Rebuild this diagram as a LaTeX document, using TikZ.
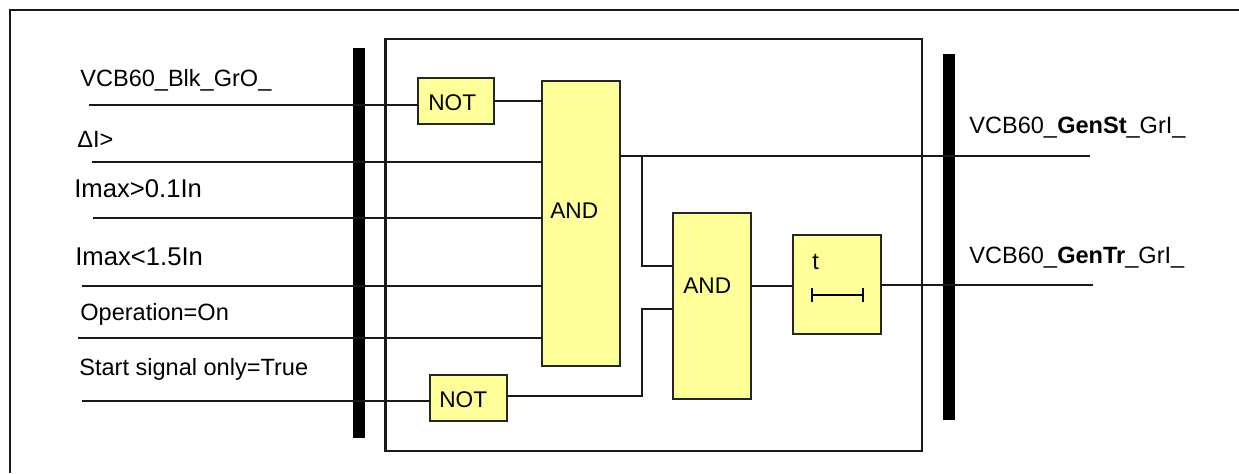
\documentclass[tikz,border=0pt]{standalone}
\usepackage{fontspec}
\setmainfont{Liberation Sans}
\usetikzlibrary{arrows.meta}
\definecolor{gateyellow}{HTML}{FFFF99}
\tikzset{
    wire/.style={line width=1.1pt, black!90},
    gate/.style={draw=black!85, line width=1.1pt, fill=gateyellow, inner sep=0pt, outer sep=0pt},
    bus/.style={fill=black, inner sep=0pt, outer sep=0pt, minimum width=0.23cm},
    lbl/.style={anchor=base west, inner sep=0pt, font=\fontsize{13.4}{16}\selectfont},
    biglbl/.style={lbl, font=\fontsize{14.6}{17}\selectfont},
    gatelbl/.style={lbl, font=\fontsize{12.9}{15}\selectfont}
}
\begin{document}
\begin{tikzpicture}[x=0.02cm, y=-0.02cm, >=Stealth]
    \useasboundingbox (0,0) rectangle (1239,473);
    % Frame
    \coordinate (frameA) at (10,473);
    \coordinate (frameB) at (10,10);
    \coordinate (frameC) at (1239,10);
    \draw[line width=0.9pt, black!90] (frameA) -- (frameB) -- (frameC);
    \node[draw, line width=1.5pt, black!90, inner sep=0pt, outer sep=0pt, minimum width=10.73cm, minimum height=8.24cm] (relay) at (653.75,245) {};
    % Gates
    \node[gate, minimum width=1.53cm, minimum height=0.92cm] (notA) at (456,101) {};
    \node[gate, minimum width=1.53cm, minimum height=0.92cm] (notB) at (468.5,398) {};
    \node[gate, minimum width=1.56cm, minimum height=5.7cm] (andA) at (581,223.5) {};
    \node[gate, minimum width=1.55cm, minimum height=3.72cm] (andB) at (712,306) {};
    \node[gate, minimum width=1.76cm, minimum height=1.98cm] (timer) at (837,284.5) {};
    % Bars
    \node[bus, minimum height=7.8cm] (busL) at (359,243) {};
    \node[bus, minimum height=7.32cm] (busR) at (949,237) {};
    % Inputs
    \coordinate (inA) at (89,105);
    \coordinate (inB) at (92,162);
    \coordinate (inC) at (93,218);
    \coordinate (inD) at (82,286);
    \coordinate (inE) at (78,338);
    \coordinate (inF) at (82,401);
    \draw[wire] (inA) -- (inA -| notA.west);
    \draw[wire] (inB) -- (inB -| andA.west);
    \draw[wire] (inC) -- (inC -| andA.west);
    \draw[wire] (inD) -- (inD -| andA.west);
    \draw[wire] (inE) -- (inE -| andA.west);
    \draw[wire] (inF) -- (inF -| notB.west);
    % Links between gates
    \coordinate (linkA) at (494.5,100.7);
    \coordinate (splitT) at (642,156);
    \coordinate (splitB) at (642,266);
    \coordinate (linkB) at (642,396);
    \coordinate (linkC) at (642,309);
    \coordinate (linkD) at (752,286);
    \coordinate (outA) at (1090,156);
    \coordinate (outB) at (1093,285);
    \draw[wire] (linkA) -- (linkA -| andA.west);
    \draw[wire] (splitT -| andA.east) -- (outA);
    \draw[wire] (splitT) -- (splitB) -- (splitB -| andB.west);
    \draw[wire] (linkB -| notB.east) -- (linkB) -- (linkC) -- (linkC -| andB.west);
    \draw[wire] (linkD) -- (linkD -| timer.west);
    \draw[wire] (outB -| timer.east) -- (outB);
    % Timer mark
    \coordinate (markA) at (811,295);
    \coordinate (markB) at (863.5,295);
    \draw[line width=0.9pt, {Bar[width=8pt]}-{Bar[width=8pt]}] (markA) -- (markB);
    % Labels
    \node[lbl] (txtA) at (80,87) {VCB60\_Blk\_GrO\_};
    \node[lbl] (txtB) at (77,147) {ΔI>};
    \node[biglbl] (txtC) at (74,197) {Imax>0.1In};
    \node[biglbl] (txtD) at (75,265.7) {Imax<1.5In};
    \node[lbl] (txtE) at (80,320) {Operation=On};
    \node[lbl] (txtF) at (79,375.7) {Start signal only=True};
    \node[lbl] (txtG) at (969,133) {VCB60\_\textbf{GenSt}\_GrI\_};
    \node[lbl] (txtH) at (969,263) {VCB60\_\textbf{GenTr}\_GrI\_};
    \node[gatelbl] (txtNotA) at (428,111) {NOT};
    \node[gatelbl] (txtNotB) at (439,407) {NOT};
    \node[gatelbl] (txtAndA) at (550,218) {AND};
    \node[gatelbl] (txtAndB) at (683,293.7) {AND};
    \node[lbl] (txtT) at (812,269.7) {t};
\end{tikzpicture}
\end{document}
